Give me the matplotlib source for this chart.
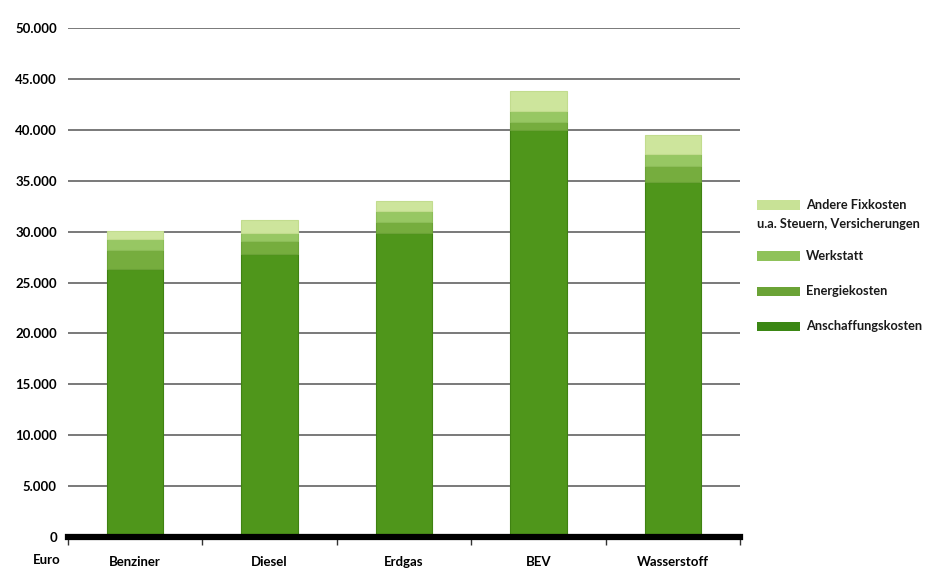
import matplotlib
matplotlib.use("Agg")
import matplotlib.pyplot as plt
from matplotlib.patches import Rectangle
from matplotlib.ticker import FuncFormatter, FixedLocator

# Kostenvergleich nach Antriebsart (Euro)
categories = ["Benziner", "Diesel", "Erdgas", "BEV", "Wasserstoff"]
anschaffung = [26300, 27800, 29900, 40000, 34900]
energie = [1900, 1300, 1000, 800, 1500]
werkstatt = [1050, 800, 1150, 1000, 1200]
andere = [850, 1250, 950, 2050, 1900]

series_names = ["Anschaffungskosten", "Energiekosten", "Werkstatt",
                "Andere Fixkosten"]
extra_line = "u.a. Steuern, Versicherungen"
y_ticks = [0, 5000, 10000, 15000, 20000, 25000, 30000, 35000, 40000, 45000, 50000]

colors = ["#4f961b", "#76ad3e", "#97c763", "#cde59c"]
edges = ["#3f8212", "#6aa236", "#8cbd58", "#c2dc8e"]
legend_colors = ["#3b8714", "#6ba336", "#8fc25a", "#c8e296"]

plt.rcParams["font.family"] = ["Lato", "DejaVu Sans"]

W, H = 946, 571
fig = plt.figure(figsize=(W / 100, H / 100), dpi=100)
ax = fig.add_axes([68 / W, 34 / H, 672 / W, 509 / H])

x = list(range(len(categories)))
bottom = [0] * len(categories)
for vals, c, ec in zip([anschaffung, energie, werkstatt, andere], colors, edges):
    ax.bar(x, vals, width=0.42, bottom=bottom, color=c, edgecolor=ec,
           linewidth=0.8, zorder=3)
    bottom = [b + v for b, v in zip(bottom, vals)]

ax.set_xlim(-0.5, 4.5)
ax.set_ylim(0, 50000)
ax.yaxis.set_major_locator(FixedLocator(y_ticks))
ax.yaxis.set_major_formatter(
    FuncFormatter(lambda v, p: f"{int(v):,}".replace(",", ".")))
ax.grid(axis="y", color="#6e6e6e", linewidth=1.3, zorder=0)
ax.tick_params(axis="y", length=0, pad=8, labelsize=9.5)
for lbl in ax.get_yticklabels():
    lbl.set_fontweight("bold")

# category boundaries as downward ticks, labels centered under bars
ax.set_xticks([i - 0.5 for i in range(len(categories) + 1)])
ax.set_xticklabels([])
ax.set_xticks(x, minor=True)
ax.set_xticklabels(categories, minor=True, fontsize=9.5, fontweight="bold")
ax.tick_params(axis="x", which="major", length=6, width=1, color="#333333",
               direction="out")
ax.tick_params(axis="x", which="minor", length=0, pad=14)

for side in ["top", "right", "left"]:
    ax.spines[side].set_visible(False)
ax.spines["bottom"].set_linewidth(4.5)
ax.spines["bottom"].set_color("black")
ax.spines["bottom"].set_zorder(5)

fig.text(33 / W, 1 - 560 / H, "Euro", fontsize=9.5, fontweight="bold",
         ha="left", va="center")

# legend drawn by hand: swatch + label, top entry has a second line
rows_y = [326, 291, 256, 205]
for name, c, yp in zip(series_names, legend_colors, rows_y):
    fig.patches.append(Rectangle((757 / W, 1 - (yp + 4.5) / H), 43 / W, 9 / H,
                                 transform=fig.transFigure, facecolor=c,
                                 edgecolor="none"))
    fig.text(806 / W, 1 - yp / H, name, fontsize=9.2, fontweight="bold",
             ha="left", va="center", color="#1a1a1a")
fig.text(757 / W, 1 - 224 / H, extra_line, fontsize=9.2, fontweight="bold",
         ha="left", va="center", color="#1a1a1a")

fig.savefig("out.png", dpi=100, facecolor="white")
